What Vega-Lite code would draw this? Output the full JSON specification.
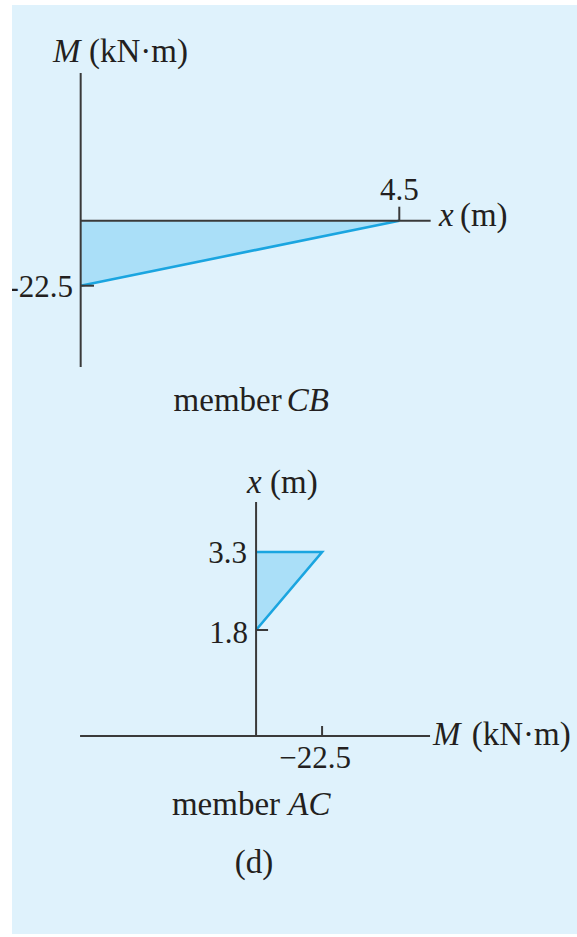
{
  "$schema": "https://vega.github.io/schema/vega-lite/v6.json",
  "background": "white",
  "padding": {"left": 12, "top": 5, "right": 0, "bottom": 3},
  "config": {
    "view": {"fill": "#dff2fc", "stroke": null},
    "concat": {"spacing": 0},
    "text": {"font": "Liberation Serif", "color": "#231f20", "baseline": "alphabetic"}
  },
  "datasets": {
    "cb_moment": [{"x": 0, "M": -22.5}, {"x": 4.5, "M": 0}],
    "cb_rules": [
      {"x": 0, "x2": 0, "M": 51.1, "M2": -50.6},
      {"x": 0, "x2": 4.943, "M": 0, "M2": 0},
      {"x": 4.5, "x2": 4.5, "M": 0, "M2": 4.85},
      {"x": 0, "x2": 0.188, "M": -22.5, "M2": -22.5}
    ],
    "cb_num_center": [{"x": 4.5, "M": 7.17, "label": "4.5"}],
    "cb_num_right": [{"x": -0.109, "M": -26.4, "label": "-22.5"}],
    "cb_word_left": [{"x": 0.117, "M": 54.93, "label": "(kN·m)"}, {"x": 5.357, "M": -1.83, "label": "(m)"}],
    "cb_word_italic": [{"x": -0.391, "M": 54.93, "label": "M"}, {"x": 5.06, "M": -1.83, "label": "x"}, {"x": 2.91, "M": -65.87, "label": "CB"}],
    "cb_word_right": [{"x": 2.839, "M": -65.87, "label": "member"}],
    "ac_moment": [{"x": 1.8, "M": 0}, {"x": 3.3, "M": -22.5}],
    "ac_outline": [{"x": 3.3, "M": 0, "o": 1}, {"x": 3.3, "M": -22.5, "o": 2}, {"x": 1.8, "M": 0, "o": 3}],
    "ac_rules": [
      {"M": 0, "M2": 0, "x": -0.238, "x2": 4.262},
      {"M": 60, "M2": -59.3, "x": -0.238, "x2": -0.238},
      {"M": -22.5, "M2": -22.5, "x": -0.238, "x2": -0.046},
      {"M": 0, "M2": -4.09, "x": 1.8, "x2": 1.8}
    ],
    "ac_num_right": [{"M": 3.07, "x": 3.088, "label": "3.3"}, {"M": 2.73, "x": 1.55, "label": "1.8"}],
    "ac_num_center": [{"M": -20.1, "x": -0.854, "label": "−22.5"}],
    "ac_word_left": [{"M": -73.54, "x": -0.41, "label": "(kN·m)"}, {"M": -4.77, "x": 4.435, "label": "(m)"}],
    "ac_word_italic": [{"M": -60.35, "x": -0.41, "label": "M"}, {"M": 3.07, "x": 4.435, "label": "x"}, {"M": -11.01, "x": -1.758, "label": "AC"}],
    "ac_word_right": [{"M": -8.18, "x": -1.758, "label": "member"}],
    "ac_word_center": [{"M": 0.68, "x": -2.873, "label": "(d)"}]
  },
  "vconcat": [
    {
      "width": 565,
      "height": 435,
      "layer": [
        {
          "data": {"name": "cb_moment"},
          "mark": {"type": "area", "color": "#aadff8", "opacity": 1},
          "encoding": {
            "x": {"field": "x", "type": "quantitative", "scale": {"domain": [-0.97, 7.01], "nice": false, "zero": false}, "axis": null},
            "y": {"field": "M", "type": "quantitative", "scale": {"domain": [-75.9, 74.66], "nice": false, "zero": false}, "axis": null},
            "y2": {"datum": 0}
          }
        },
        {
          "data": {"name": "cb_moment"},
          "mark": {"type": "line", "color": "#1aa5e0", "strokeWidth": 2.6},
          "encoding": {
            "x": {"field": "x", "type": "quantitative", "axis": null},
            "y": {"field": "M", "type": "quantitative", "axis": null}
          }
        },
        {
          "data": {"name": "cb_rules"},
          "mark": {"type": "rule", "color": "#3a3a3a", "strokeWidth": 2},
          "encoding": {
            "x": {"field": "x", "type": "quantitative", "axis": null},
            "x2": {"field": "x2"},
            "y": {"field": "M", "type": "quantitative", "axis": null},
            "y2": {"field": "M2"}
          }
        },
        {
          "data": {"name": "cb_num_center"},
          "mark": {"type": "text", "align": "center", "fontSize": 31},
          "encoding": {
            "x": {"field": "x", "type": "quantitative", "axis": null},
            "y": {"field": "M", "type": "quantitative", "axis": null},
            "text": {"field": "label"}
          }
        },
        {
          "data": {"name": "cb_num_right"},
          "mark": {"type": "text", "align": "right", "fontSize": 31, "clip": true},
          "encoding": {
            "x": {"field": "x", "type": "quantitative", "axis": null},
            "y": {"field": "M", "type": "quantitative", "axis": null},
            "text": {"field": "label"}
          }
        },
        {
          "data": {"name": "cb_word_left"},
          "mark": {"type": "text", "align": "left", "fontSize": 33},
          "encoding": {
            "x": {"field": "x", "type": "quantitative", "axis": null},
            "y": {"field": "M", "type": "quantitative", "axis": null},
            "text": {"field": "label"}
          }
        },
        {
          "data": {"name": "cb_word_italic"},
          "mark": {"type": "text", "align": "left", "fontSize": 33, "fontStyle": "italic"},
          "encoding": {
            "x": {"field": "x", "type": "quantitative", "axis": null},
            "y": {"field": "M", "type": "quantitative", "axis": null},
            "text": {"field": "label"}
          }
        },
        {
          "data": {"name": "cb_word_right"},
          "mark": {"type": "text", "align": "right", "fontSize": 33},
          "encoding": {
            "x": {"field": "x", "type": "quantitative", "axis": null},
            "y": {"field": "M", "type": "quantitative", "axis": null},
            "text": {"field": "label"}
          }
        }
      ]
    },
    {
      "width": 565,
      "height": 494,
      "layer": [
        {
          "data": {"name": "ac_moment"},
          "mark": {"type": "area", "orient": "horizontal", "color": "#aadff8", "opacity": 1},
          "encoding": {
            "x": {"field": "M", "type": "quantitative", "scale": {"domain": [-109.4, 83.2], "reverse": true, "nice": false, "zero": false}, "axis": null},
            "x2": {"datum": 0},
            "y": {"field": "x", "type": "quantitative", "scale": {"domain": [-4.046, 5.454], "nice": false, "zero": false}, "axis": null}
          }
        },
        {
          "data": {"name": "ac_outline"},
          "mark": {"type": "line", "color": "#1aa5e0", "strokeWidth": 2.6},
          "encoding": {
            "x": {"field": "M", "type": "quantitative", "axis": null},
            "y": {"field": "x", "type": "quantitative", "axis": null},
            "order": {"field": "o"}
          }
        },
        {
          "data": {"name": "ac_rules"},
          "mark": {"type": "rule", "color": "#3a3a3a", "strokeWidth": 2},
          "encoding": {
            "x": {"field": "M", "type": "quantitative", "axis": null},
            "x2": {"field": "M2"},
            "y": {"field": "x", "type": "quantitative", "axis": null},
            "y2": {"field": "x2"}
          }
        },
        {
          "data": {"name": "ac_num_right"},
          "mark": {"type": "text", "align": "right", "fontSize": 31},
          "encoding": {
            "x": {"field": "M", "type": "quantitative", "axis": null},
            "y": {"field": "x", "type": "quantitative", "axis": null},
            "text": {"field": "label"}
          }
        },
        {
          "data": {"name": "ac_num_center"},
          "mark": {"type": "text", "align": "center", "fontSize": 31},
          "encoding": {
            "x": {"field": "M", "type": "quantitative", "axis": null},
            "y": {"field": "x", "type": "quantitative", "axis": null},
            "text": {"field": "label"}
          }
        },
        {
          "data": {"name": "ac_word_left"},
          "mark": {"type": "text", "align": "left", "fontSize": 33},
          "encoding": {
            "x": {"field": "M", "type": "quantitative", "axis": null},
            "y": {"field": "x", "type": "quantitative", "axis": null},
            "text": {"field": "label"}
          }
        },
        {
          "data": {"name": "ac_word_italic"},
          "mark": {"type": "text", "align": "left", "fontSize": 33, "fontStyle": "italic"},
          "encoding": {
            "x": {"field": "M", "type": "quantitative", "axis": null},
            "y": {"field": "x", "type": "quantitative", "axis": null},
            "text": {"field": "label"}
          }
        },
        {
          "data": {"name": "ac_word_right"},
          "mark": {"type": "text", "align": "right", "fontSize": 33},
          "encoding": {
            "x": {"field": "M", "type": "quantitative", "axis": null},
            "y": {"field": "x", "type": "quantitative", "axis": null},
            "text": {"field": "label"}
          }
        },
        {
          "data": {"name": "ac_word_center"},
          "mark": {"type": "text", "align": "center", "fontSize": 33},
          "encoding": {
            "x": {"field": "M", "type": "quantitative", "axis": null},
            "y": {"field": "x", "type": "quantitative", "axis": null},
            "text": {"field": "label"}
          }
        }
      ]
    }
  ]
}
